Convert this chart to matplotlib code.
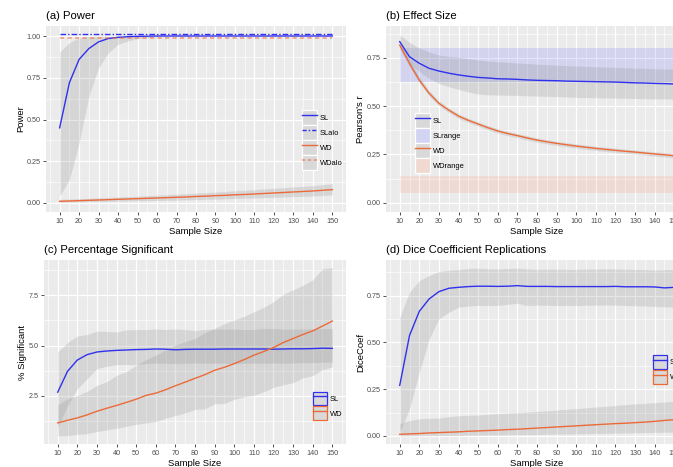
import matplotlib
matplotlib.use("Agg")
import matplotlib.pyplot as plt
from matplotlib.lines import Line2D
from matplotlib.patches import Patch
from matplotlib.ticker import MultipleLocator, FormatStrFormatter
from matplotlib.legend_handler import HandlerTuple

plt.rcParams["font.family"] = ["Liberation Sans", "DejaVu Sans"]

# sample sizes
n = list(range(10, 155, 5))

# (a) Power
sl_power = [0.45, 0.72, 0.86, 0.925, 0.965, 0.985, 0.992, 0.996, 0.998, 0.999, 1.0, 1.0, 1.0, 1.0, 1.0,
            1.0, 1.0, 1.0, 1.0, 1.0, 1.0, 1.0, 1.0, 1.0, 1.0, 1.0, 1.0, 1.0, 1.0]
sl_power_lo = [0.04, 0.14, 0.36, 0.64, 0.81, 0.90, 0.95, 0.97, 0.985, 0.99, 0.995, 0.998, 1.0, 1.0, 1.0,
               1.0, 1.0, 1.0, 1.0, 1.0, 1.0, 1.0, 1.0, 1.0, 1.0, 1.0, 1.0, 1.0, 1.0]
sl_power_hi = [0.905, 0.96, 0.99, 0.998, 1.0, 1.0, 1.0, 1.0, 1.0, 1.0, 1.0, 1.0, 1.0, 1.0, 1.0,
               1.0, 1.0, 1.0, 1.0, 1.0, 1.0, 1.0, 1.0, 1.0, 1.0, 1.0, 1.0, 1.0, 1.0]
wd_power = [0.010, 0.012, 0.014, 0.016, 0.018, 0.020, 0.022, 0.024, 0.026, 0.028, 0.030, 0.032, 0.034, 0.036, 0.039,
            0.041, 0.044, 0.046, 0.049, 0.051, 0.054, 0.057, 0.060, 0.063, 0.066, 0.069, 0.072, 0.076, 0.080]
wd_power_lo = [0.005, 0.006, 0.007, 0.008, 0.009, 0.010, 0.011, 0.012, 0.013, 0.014, 0.015, 0.016, 0.017, 0.019, 0.020,
               0.022, 0.023, 0.025, 0.027, 0.028, 0.030, 0.032, 0.034, 0.036, 0.038, 0.040, 0.042, 0.045, 0.048]
wd_power_hi = [0.022, 0.024, 0.026, 0.028, 0.031, 0.033, 0.036, 0.038, 0.041, 0.044, 0.047, 0.050, 0.053, 0.056, 0.059,
               0.062, 0.066, 0.069, 0.073, 0.076, 0.080, 0.084, 0.088, 0.092, 0.096, 0.100, 0.104, 0.110, 0.116]
sl_alo = 1.01
wd_alo = 0.99

# (b) Effect size
sl_r = [0.833, 0.755, 0.721, 0.695, 0.681, 0.670, 0.661, 0.654, 0.648, 0.645, 0.641, 0.640, 0.638, 0.635, 0.633,
        0.632, 0.631, 0.629, 0.628, 0.627, 0.626, 0.625, 0.624, 0.622, 0.620, 0.619, 0.617, 0.616, 0.614]
sl_r_lo = [0.815, 0.72, 0.678, 0.643, 0.617, 0.600, 0.586, 0.573, 0.562, 0.558, 0.557, 0.556, 0.555, 0.553, 0.552,
           0.550, 0.549, 0.547, 0.545, 0.544, 0.543, 0.542, 0.541, 0.540, 0.539, 0.538, 0.537, 0.537, 0.536]
sl_r_hi = [0.867, 0.83, 0.80, 0.78, 0.764, 0.757, 0.752, 0.745, 0.738, 0.733, 0.729, 0.726, 0.723, 0.720, 0.717,
           0.714, 0.711, 0.709, 0.707, 0.705, 0.703, 0.702, 0.700, 0.698, 0.696, 0.695, 0.693, 0.692, 0.691]
wd_r = [0.815, 0.72, 0.634, 0.566, 0.514, 0.479, 0.448, 0.426, 0.407, 0.388, 0.371, 0.358, 0.347, 0.335, 0.324,
        0.315, 0.307, 0.300, 0.293, 0.287, 0.281, 0.276, 0.271, 0.266, 0.262, 0.257, 0.252, 0.248, 0.243]
wd_r_lo = [0.795, 0.702, 0.618, 0.552, 0.501, 0.467, 0.436, 0.415, 0.396, 0.377, 0.360, 0.347, 0.336, 0.324, 0.313,
           0.304, 0.296, 0.289, 0.282, 0.276, 0.270, 0.265, 0.260, 0.255, 0.251, 0.246, 0.241, 0.237, 0.232]
wd_r_hi = [0.835, 0.738, 0.650, 0.580, 0.527, 0.491, 0.460, 0.437, 0.418, 0.399, 0.382, 0.369, 0.358, 0.346, 0.335,
           0.326, 0.318, 0.311, 0.304, 0.298, 0.292, 0.287, 0.282, 0.277, 0.273, 0.268, 0.263, 0.259, 0.254]
sl_range = (0.622, 0.802)
wd_range = (0.052, 0.138)

# (c) Percentage significant
sl_pct = [2.68, 3.72, 4.28, 4.55, 4.68, 4.73, 4.76, 4.78, 4.80, 4.81, 4.83, 4.82, 4.79, 4.81, 4.82,
          4.82, 4.82, 4.83, 4.83, 4.83, 4.83, 4.83, 4.82, 4.83, 4.84, 4.84, 4.85, 4.87, 4.86]
sl_pct_lo = [0.93, 2.0, 2.85, 3.35, 3.85, 3.97, 4.05, 4.06, 4.05, 4.10, 4.13, 4.12, 4.10, 4.12, 4.13,
             4.12, 4.12, 4.12, 4.10, 4.12, 4.13, 4.12, 4.13, 4.12, 4.13, 4.15, 4.15, 4.17, 4.18]
sl_pct_hi = [4.68, 5.15, 5.48, 5.55, 5.72, 5.70, 5.68, 5.78, 5.80, 5.80, 5.83, 5.80, 5.82, 5.80, 5.75,
             5.80, 5.82, 5.82, 5.82, 5.80, 5.80, 5.85, 5.85, 5.82, 5.82, 5.82, 5.83, 5.85, 5.85]
wd_pct = [1.15, 1.28, 1.40, 1.55, 1.73, 1.88, 2.02, 2.17, 2.33, 2.52, 2.63, 2.80, 3.00, 3.18, 3.37,
          3.55, 3.77, 3.92, 4.10, 4.30, 4.52, 4.70, 4.90, 5.15, 5.35, 5.55, 5.73, 5.97, 6.22]
wd_pct_lo = [0.50, 0.52, 0.58, 0.62, 0.72, 0.80, 0.88, 0.98, 1.08, 1.15, 1.22, 1.38, 1.52, 1.65, 1.82,
             1.85, 2.10, 2.12, 2.32, 2.45, 2.52, 2.70, 2.92, 3.05, 3.15, 3.40, 3.50, 3.80, 3.93]
wd_pct_hi = [2.05, 2.35, 2.52, 2.72, 3.02, 3.20, 3.52, 3.70, 4.02, 4.30, 4.52, 4.78, 5.02, 5.20, 5.35,
             5.65, 5.85, 6.10, 6.27, 6.45, 6.68, 6.90, 7.18, 7.55, 7.77, 8.00, 8.27, 8.82, 8.88]

# (d) Dice coefficient replications
sl_dice = [0.27, 0.537, 0.666, 0.732, 0.771, 0.789, 0.794, 0.798, 0.800, 0.800, 0.799, 0.800, 0.803, 0.799, 0.799,
           0.799, 0.798, 0.798, 0.798, 0.798, 0.798, 0.798, 0.799, 0.797, 0.797, 0.797, 0.796, 0.791, 0.794]
sl_dice_lo = [0.02, 0.146, 0.341, 0.519, 0.626, 0.661, 0.688, 0.694, 0.697, 0.698, 0.697, 0.703, 0.709, 0.697, 0.699,
              0.698, 0.697, 0.698, 0.697, 0.698, 0.699, 0.700, 0.699, 0.697, 0.696, 0.694, 0.692, 0.690, 0.688]
sl_dice_hi = [0.634, 0.768, 0.83, 0.857, 0.878, 0.885, 0.889, 0.895, 0.896, 0.893, 0.892, 0.895, 0.896, 0.893, 0.890,
              0.891, 0.891, 0.890, 0.890, 0.891, 0.892, 0.893, 0.892, 0.891, 0.890, 0.889, 0.886, 0.888, 0.889]
wd_dice = [0.009, 0.011, 0.013, 0.016, 0.018, 0.020, 0.022, 0.025, 0.027, 0.029, 0.031, 0.034, 0.036, 0.039, 0.042,
           0.045, 0.048, 0.051, 0.054, 0.057, 0.060, 0.063, 0.066, 0.068, 0.071, 0.074, 0.078, 0.083, 0.087]
wd_dice_lo = [0.0, 0.0, 0.001, 0.002, 0.002, 0.003, 0.003, 0.004, 0.004, 0.005, 0.005, 0.006, 0.007, 0.007, 0.008,
              0.009, 0.010, 0.010, 0.011, 0.012, 0.013, 0.014, 0.015, 0.016, 0.017, 0.018, 0.019, 0.020, 0.021]
wd_dice_hi = [0.066, 0.082, 0.092, 0.094, 0.096, 0.103, 0.108, 0.110, 0.112, 0.115, 0.119, 0.122, 0.124, 0.127, 0.131,
              0.134, 0.138, 0.142, 0.146, 0.150, 0.155, 0.158, 0.163, 0.167, 0.171, 0.174, 0.178, 0.182, 0.185]

BLUE = "#3030ee"
ORANGE = "#ec6a38"
BAND = (0.5, 0.5, 0.5, 0.2)
W, H = 673, 467


def box(l, t, r, b):
    # pixel box -> figure fraction
    return [l / W, 1 - b / H, (r - l) / W, (b - t) / H]


def gg_style(ax, title, ylabel, ylim, ymajor):
    ax.set_facecolor("#ebebeb")
    for s in ax.spines.values():
        s.set_visible(False)
    ax.set_xlim(3, 157)
    ax.set_ylim(*ylim)
    ax.xaxis.set_major_locator(MultipleLocator(10))
    ax.xaxis.set_minor_locator(MultipleLocator(5))
    ax.yaxis.set_major_locator(MultipleLocator(ymajor))
    ax.yaxis.set_minor_locator(MultipleLocator(ymajor / 2))
    ax.grid(which="major", color="white", lw=0.9)
    ax.grid(which="minor", color="white", lw=0.45)
    ax.set_axisbelow(True)
    ax.tick_params(which="major", length=2.5, width=0.6, color="#333333",
                   labelsize=5.2, labelcolor="#4d4d4d", pad=1.5)
    ax.tick_params(which="minor", length=0)
    ax.set_title(title, loc="left", fontsize=8.1, pad=5)
    ax.set_xlabel("Sample Size", fontsize=6.8, labelpad=2)
    ax.set_ylabel(ylabel, fontsize=6.8, labelpad=1)


def key(color, ls="-", fill="#d9d9d9", edge="white", alpha=1.0, lw=1.0):
    return (Patch(facecolor=fill, edgecolor=edge, lw=0.9),
            Line2D([], [], color=color, ls=ls, lw=lw, alpha=alpha))


def put_legend(ax, handles, labels, anchor, hl=2.0, hh=2.7, sp=0.0):
    ax.legend(handles, labels, loc="center left", bbox_to_anchor=anchor, frameon=False,
              fontsize=5.4, borderaxespad=0, borderpad=0, handlelength=hl, handleheight=hh,
              labelspacing=sp, handletextpad=0.35,
              handler_map={tuple: HandlerTuple(ndivide=1, pad=0)})


fig = plt.figure(figsize=(6.73, 4.67), dpi=100)

# (a)
ax = fig.add_axes(box(46, 26, 346, 212))
gg_style(ax, "(a) Power", "Power", (-0.054, 1.06), 0.25)
ax.yaxis.set_major_formatter(FormatStrFormatter("%.2f"))
ax.fill_between(n, sl_power_lo, sl_power_hi, color=BAND, lw=0)
ax.fill_between(n, wd_power_lo, wd_power_hi, color=BAND, lw=0)
ax.plot(n, sl_power, color=BLUE, lw=1.0)
ax.plot(n, wd_power, color=ORANGE, lw=1.0)
ax.plot([n[0], n[-1]], [sl_alo, sl_alo], color=BLUE, lw=1.0, ls=(0, (4, 1.5, 1, 1.5)))
ax.plot([n[0], n[-1]], [wd_alo, wd_alo], color=ORANGE, lw=1.2, ls=(0, (2.5, 2)), alpha=0.6)
put_legend(ax, [key(BLUE), key(BLUE, (0, (3, 1.5, 1, 1.5))), key(ORANGE),
                key(ORANGE, (0, (2, 1.5)), alpha=0.6, lw=1.2)],
           ["SL", "SLalo", "WD", "WDalo"], (0.853, 0.387))

# (b)
ax = fig.add_axes(box(386, 26, 688, 212))
gg_style(ax, "(b) Effect Size", "Pearson's r", (-0.048, 0.914), 0.25)
ax.yaxis.set_major_formatter(FormatStrFormatter("%.2f"))
ax.fill_between([n[0], 157], sl_range[0], sl_range[1], color=(0.2, 0.2, 1.0, 0.13), lw=0)
ax.fill_between([n[0], 157], wd_range[0], wd_range[1], color=(1.0, 0.4, 0.2, 0.12), lw=0)
ax.fill_between(n, sl_r_lo, sl_r_hi, color=BAND, lw=0)
ax.fill_between(n, wd_r_lo, wd_r_hi, color=BAND, lw=0)
ax.plot(n, sl_r, color=BLUE, lw=1.0)
ax.plot(n, wd_r, color=ORANGE, lw=1.0)
put_legend(ax, [key(BLUE), (Patch(facecolor="#d3d3f2", edgecolor="white", lw=0.9),),
                key(ORANGE), (Patch(facecolor="#efd9d0", edgecolor="white", lw=0.9),)],
           ["SL", "SLrange", "WD", "WDrange"], (0.096, 0.371))

# (c)
ax = fig.add_axes(box(44, 260, 346, 444))
gg_style(ax, "(c) Percentage Significant", "% Significant", (0.1, 9.26), 2.5)
ax.yaxis.set_major_formatter(FormatStrFormatter("%.1f"))
ax.set_yticks([2.5, 5.0, 7.5])
ax.fill_between(n, sl_pct_lo, sl_pct_hi, color=BAND, lw=0)
ax.fill_between(n, wd_pct_lo, wd_pct_hi, color=BAND, lw=0)
ax.plot(n, sl_pct, color=BLUE, lw=1.0)
ax.plot(n, wd_pct, color=ORANGE, lw=1.0)
put_legend(ax, [key(BLUE, edge=BLUE), key(ORANGE, edge=ORANGE)], ["SL", "WD"], (0.891, 0.207),
           hl=1.87, hh=2.45, sp=0.15)

# (d)
ax = fig.add_axes(box(386, 260, 688, 444))
gg_style(ax, "(d) Dice Coefficient Replications", "DiceCoef", (-0.043, 0.94), 0.25)
ax.yaxis.set_major_formatter(FormatStrFormatter("%.2f"))
ax.fill_between(n, sl_dice_lo, sl_dice_hi, color=BAND, lw=0)
ax.fill_between(n, wd_dice_lo, wd_dice_hi, color=BAND, lw=0)
ax.plot(n, sl_dice, color=BLUE, lw=1.0)
ax.plot(n, wd_dice, color=ORANGE, lw=1.0)
put_legend(ax, [key(BLUE, edge=BLUE), key(ORANGE, edge=ORANGE)], ["SL", "WD"], (0.884, 0.405),
           hl=1.87, hh=2.45, sp=0.15)

fig.savefig("out.png", dpi=100)
